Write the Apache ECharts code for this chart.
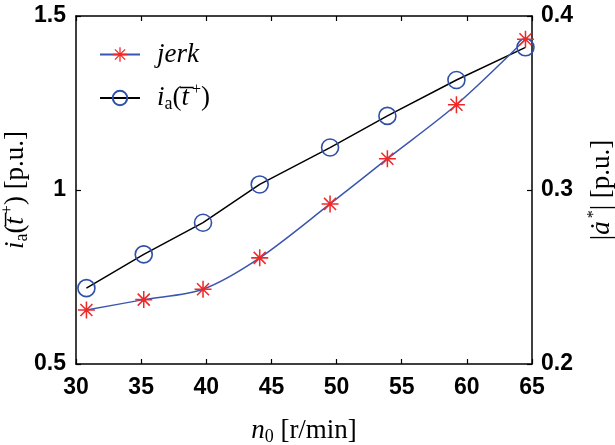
<!DOCTYPE html>
<html>
<head>
<meta charset="utf-8">
<script src="https://cdn.jsdelivr.net/npm/echarts@6/dist/echarts.min.js"></script>
<style>html,body{margin:0;padding:0;background:#fff}#c{width:615px;height:445px}</style>
</head>
<body>
<div id="c"></div>
<script>
// Data
var speeds = [30.8, 35.2, 39.75, 44.1, 49.5, 53.9, 59.2, 64.5];
var iaValues = [0.718, 0.815, 0.906, 1.016, 1.122, 1.213, 1.316, 1.41];
var jerkValues = [0.231, 0.237, 0.243, 0.261, 0.292, 0.318, 0.349, 0.3866];
var xTicks = [30, 35, 40, 45, 50, 55, 60, 65];
var leftTicks = [0.5, 1, 1.5];
var rightTicks = [0.2, 0.3, 0.4];

function asteriskPath() {
  var L = 10, w = 0.9, parts = [];
  [0, 45, 90, 135].forEach(function (a) {
    var t = a * Math.PI / 180, dx = Math.cos(t), dy = Math.sin(t), nx = -dy, ny = dx;
    var p = [
      [L * dx + w * nx, L * dy + w * ny],
      [L * dx - w * nx, L * dy - w * ny],
      [-L * dx - w * nx, -L * dy - w * ny],
      [-L * dx + w * nx, -L * dy + w * ny]
    ];
    parts.push('M' + p.map(function (q) { return q[0].toFixed(3) + ',' + q[1].toFixed(3); }).join('L') + 'Z');
  });
  return 'path://' + parts.join('');
}

var serif = '"Liberation Serif", "Times New Roman", serif';
var sans = '"Liberation Sans", Arial, sans-serif';
var richBase = {
  it: { fontFamily: serif, fontStyle: 'italic', fontSize: 27, color: '#000' },
  n: { fontFamily: serif, fontSize: 27, color: '#000' },
  sub: { fontFamily: serif, fontSize: 18, color: '#000', padding: [12, 0, 0, 0] },
  sup: { fontFamily: serif, fontSize: 16, color: '#000', padding: [0, 0, 16, 3] }
};

var chart = echarts.init(document.getElementById('c'));
chart.setOption({
  animation: false,
  backgroundColor: '#fff',
  grid: { left: 76, right: 83, top: 16, bottom: 81, containLabel: false, outerBoundsMode: 'none' },
  legend: {
    left: 94, top: 36, orient: 'vertical', itemWidth: 40, itemHeight: 18, itemGap: 14,
    data: ['jerk', 'ia'],
    formatter: function (name) {
      if (name === 'jerk') return '{it|jerk}';
      return '{it|i}{sub|a}{n|(}{it|t\u0305}{sup|+}{n|)}';
    },
    textStyle: { rich: richBase, padding: [0, 0, 0, 12] }
  },
  xAxis: [{
    type: 'value', min: 30, max: 65, interval: 5, position: 'bottom',
    axisLine: { show: true, lineStyle: { color: '#000', width: 1.5 } },
    axisTick: { show: true, inside: true, length: 5, lineStyle: { color: '#000', width: 1.2 } },
    axisLabel: { fontFamily: sans, fontWeight: 'bold', fontSize: 23, color: '#000', margin: 12,
      formatter: function (v) { return xTicks.indexOf(v) >= 0 ? String(v) : ''; } },
    splitLine: { show: false },
    name: '{it|n}{sub|0}{n| [r/min]}', nameLocation: 'middle', nameGap: 52,
    nameTextStyle: { rich: richBase }
  }, {
    type: 'value', min: 30, max: 65, interval: 5, position: 'top',
    axisLine: { show: true, lineStyle: { color: '#000', width: 1.5 } },
    axisTick: { show: true, inside: true, length: 5, lineStyle: { color: '#000', width: 1.2 } },
    axisLabel: { show: false }, splitLine: { show: false }
  }],
  yAxis: [{
    type: 'value', min: 0.5, max: 1.5, interval: 0.5, position: 'left',
    axisLine: { show: true, lineStyle: { color: '#000', width: 1.5 } },
    axisTick: { show: true, inside: true, length: 5, lineStyle: { color: '#000', width: 1.2 } },
    axisLabel: { fontFamily: sans, fontWeight: 'bold', fontSize: 23, color: '#000', margin: 10,
      formatter: function (v) { return leftTicks.indexOf(v) >= 0 ? String(v) : ''; } },
    splitLine: { show: false },
    name: '{it|i}{sub|a}{n|(}{it|t\u0305}{sup|+}{n|) [p.u.]}', nameLocation: 'middle', nameRotate: 90, nameGap: 44,
    nameMoveOverlap: false,
    nameTextStyle: { rich: richBase }
  }, {
    type: 'value', min: 0.2, max: 0.4, interval: 0.1, position: 'right',
    axisLine: { show: true, lineStyle: { color: '#000', width: 1.5 } },
    axisTick: { show: true, inside: true, length: 5, lineStyle: { color: '#000', width: 1.2 } },
    axisLabel: { fontFamily: sans, fontWeight: 'bold', fontSize: 23, color: '#000', margin: 9,
      formatter: function (v) { var r = Math.round(v * 10) / 10; return rightTicks.indexOf(r) >= 0 ? r.toFixed(1) : ''; } },
    splitLine: { show: false },
    name: '{n||}{it|\u0227}{sup|*}{n|| [p.u.]}', nameLocation: 'middle', nameRotate: 90, nameGap: 54,
    nameMoveOverlap: false,
    nameTextStyle: { rich: richBase }
  }],
  series: [{
    name: 'ia', type: 'line', xAxisIndex: 0, yAxisIndex: 0,
    data: speeds.map(function (x, i) { return [x, iaValues[i]]; }),
    symbol: 'circle', symbolSize: 17,
    itemStyle: { color: 'rgba(0,0,0,0)', borderColor: '#2f4fa8', borderWidth: 1.6 },
    lineStyle: { color: '#000', width: 1.5 },
    z: 2
  }, {
    name: 'jerk', type: 'line', xAxisIndex: 0, yAxisIndex: 1, smooth: 0.3,
    data: speeds.map(function (x, i) { return [x, jerkValues[i]]; }),
    symbol: asteriskPath(), symbolSize: 17,
    itemStyle: { color: '#f02828' },
    lineStyle: { color: '#3a56b0', width: 1.5 },
    z: 3
  }]
});
</script>
</body>
</html>
